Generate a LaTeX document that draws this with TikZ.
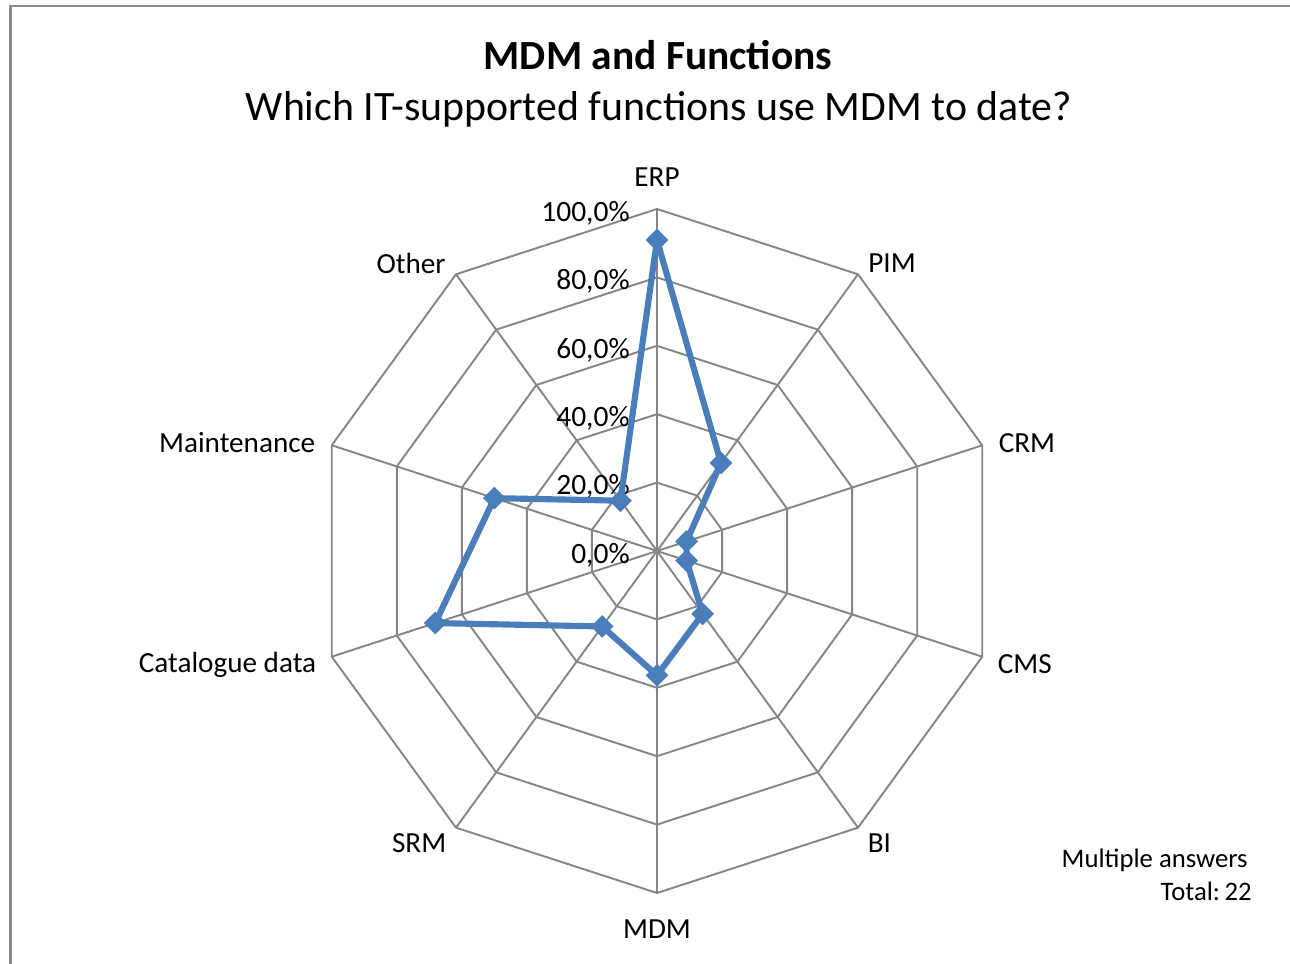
\documentclass[tikz,border=0pt]{standalone}
\usepackage{fontspec}
\setmainfont{Carlito}
\usetikzlibrary{calc,shapes.geometric}
\definecolor{gridgray}{HTML}{868686}
\definecolor{seriesblue}{HTML}{4A7EBB}
\def\webring[#1](#2)(#3){\draw[#1] ($(#2)+(90:#3)$) \foreach \a in {54,18,...,-234} {-- ($(#2)+(\a:#3)$)} -- cycle;}
\def\R{6.84}

\begin{document}
\begin{tikzpicture}[
		axislbl/.style={font=\fontsize{16.6}{20}\selectfont, inner sep=0pt},
		sidelbl/.style={axislbl, yshift=-0.06cm},
		ticklbl/.style={font=\fontsize{16.8}{20}\selectfont, inner sep=0pt, anchor=base east},
		series/.style={line width=3.5pt, color=seriesblue, line join=round},
		marker/.style={diamond, fill=seriesblue, inner sep=0pt, minimum size=0.46cm},
		web/.style={line width=1.1pt, color=gridgray}]
			%%%%% START %%%%%
			
			\useasboundingbox (0,0) rectangle (25.8,19.28);
			\draw[line width=1.4pt, color=black!45] (0.21,0) -- (0.21,19.16) -- (25.8,19.16);
			
			\node[font=\bfseries\fontsize{23.6}{28}\selectfont] (title) at (13.16,18.18) {MDM and Functions};
			\node[font=\fontsize{23.8}{28}\selectfont] (subtitle) at (13.18,17.09) {Which IT-supported functions use MDM to date?};
			
			\coordinate (c) at (13.14,8.26);
			
			\webring[web](c)(1.368);
			\webring[web](c)(2.736);
			\webring[web](c)(4.104);
			\webring[web](c)(5.472);
			\webring[web](c)(\R);
			\foreach \a in {90,54,...,-234}
				\draw[web] (c) -- ($(c)+(\a:\R)$);
			
			\node[ticklbl] (t0) at (12.6,8.01) {0,0\%};
			\node[ticklbl] (t20) at (12.6,9.38) {20,0\%};
			\node[ticklbl] (t40) at (12.6,10.75) {40,0\%};
			\node[ticklbl] (t60) at (12.6,12.11) {60,0\%};
			\node[ticklbl] (t80) at (12.6,13.48) {80,0\%};
			\node[ticklbl] (t100) at (12.6,14.85) {100,0\%};
			
			\node[axislbl] (lerp) at ($(c)+(90:7.48)$) {ERP};
			\node[sidelbl, anchor=west] (lpim) at ($(c)+(54:7.18)$) {PIM};
			\node[sidelbl, anchor=west] (lcrm) at ($(c)+(18:7.18)$) {CRM};
			\node[sidelbl, anchor=west] (lcms) at ($(c)+(-18:7.16)$) {CMS};
			\node[sidelbl, anchor=west] (lbi) at ($(c)+(-54:7.16)$) {BI};
			\node[axislbl] (lmdm) at ($(c)+(-90:7.56)$) {MDM};
			\node[sidelbl, anchor=east] (lsrm) at ($(c)+(-126:7.16)$) {SRM};
			\node[sidelbl, anchor=east] (lcat) at ($(c)+(-162:7.16)$) {Catalogue data};
			\node[sidelbl, anchor=east] (lmaint) at ($(c)+(162:7.18)$) {Maintenance};
			\node[sidelbl, anchor=east] (lother) at ($(c)+(126:7.18)$) {Other};
			
			% answers out of 22
			\coordinate (erp) at ($(c)+(90:{\R*20/22})$);
			\coordinate (pim) at ($(c)+(54:{\R*7/22})$);
			\coordinate (crm) at ($(c)+(18:{\R*2/22})$);
			\coordinate (cms) at ($(c)+(-18:{\R*2/22})$);
			\coordinate (bi) at ($(c)+(-54:{\R*5/22})$);
			\coordinate (mdm) at ($(c)+(-90:{\R*8/22})$);
			\coordinate (srm) at ($(c)+(-126:{\R*6/22})$);
			\coordinate (cat) at ($(c)+(-162:{\R*15/22})$);
			\coordinate (maint) at ($(c)+(162:{\R*11/22})$);
			\coordinate (other) at ($(c)+(126:{\R*4/22})$);
			
			\draw[series] (erp) -- (pim) -- (crm) -- (cms) -- (bi) -- (mdm) -- (srm) -- (cat) -- (maint) -- (other) -- cycle;
			\foreach \p in {erp,pim,crm,cms,bi,mdm,srm,cat,maint,other}
				\node[marker] (m\p) at (\p) {};
			
			\node[font=\fontsize{15.2}{18}\selectfont, inner sep=0pt, anchor=base east] (multi) at (24.96,1.92) {Multiple answers};
			\node[font=\fontsize{15.2}{18}\selectfont, inner sep=0pt, anchor=base east] (total) at (25.04,1.26) {Total:\,22};
			
			%%%%% END %%%%%
\end{tikzpicture}
\end{document}
